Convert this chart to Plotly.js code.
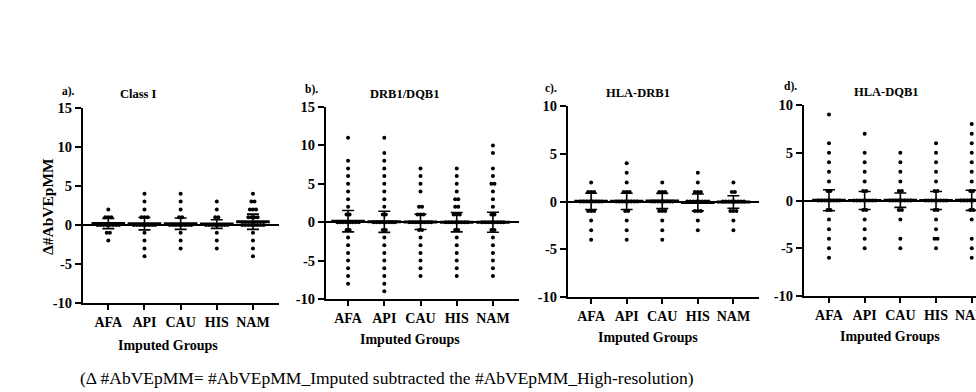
<!DOCTYPE html>
<html>
<head>
<meta charset="utf-8">
<script src="https://cdn.plot.ly/plotly-3.0.1.min.js"></script>
<style>html,body{margin:0;padding:0;background:#fff;}#chart{width:976px;height:392px;}</style>
</head>
<body>
<div id="chart"></div>
<script>
// ---- data ----
const groups = ['AFA', 'API', 'CAU', 'HIS', 'NAM'];
const yTicks15 = [-10, -5, 0, 5, 10, 15];
const yTicks10 = [-10, -5, 0, 5, 10];

// a) Class I : integer levels of Δ#AbVEpMM and dots seen at each level
const classI_levels = [[2,1,0,-1,-2],[4,3,2,1,0,-1,-2,-3,-4],[4,3,2,1,0,-1,-2,-3],[3,2,1,0,-1,-2,-3],[4,3,2,1,0,-1,-2,-3,-4]];
const classI_counts = [[1,3,8,2,1],[1,1,1,3,8,1,1,1,1],[1,1,1,2,8,1,1,1],[1,1,2,8,1,1,1],[1,2,3,4,8,1,1,1,1]];
const classI_mean = [0.19, 0.17, 0.17, 0.12, 0.42];
const classI_sd = [0.66, 0.80, 0.73, 0.55, 0.98];

// b) DRB1/DQB1
const drbdqb_levels = [
  [11,8,7,6,5,4,3,2,1,0,-1,-2,-3,-4,-5,-6,-7,-8],
  [11,9,8,7,6,5,4,3,2,1,0,-1,-2,-3,-4,-5,-6,-7,-8,-9],
  [7,6,5,4,2,1,0,-1,-2,-3,-4,-5,-6,-7],
  [7,6,5,4,3,2,1,0,-1,-2,-3,-4,-5,-6,-7],
  [10,9,7,6,5,4,3,2,1,0,-1,-2,-3,-4,-5,-6,-7]];
const drbdqb_counts = [
  [1,1,1,1,1,1,1,1,2,8,2,1,1,1,1,1,1,1],
  [1,1,1,1,1,1,1,1,1,2,8,2,1,1,1,1,1,1,1,1],
  [1,1,1,1,2,3,8,2,1,1,1,1,1,1],
  [1,1,1,1,2,2,3,8,2,1,1,1,1,1,1],
  [1,1,1,1,2,1,1,1,2,8,2,1,1,1,1,1,1]];
const drbdqb_mean = [0.13, 0.05, 0.04, 0.0, 0.0];
const drbdqb_sd = [1.39, 1.37, 1.0, 1.26, 1.3];

// c) HLA-DRB1
const drb1_levels = [[2,1,0,-1,-2,-3,-4],[4,3,2,1,0,-1,-2,-3,-4],[2,1,0,-1,-2,-3,-4],[3,2,1,0,-1,-2,-3],[2,1,0,-1,-2,-3]];
const drb1_counts = [[1,3,8,3,1,1,1],[1,1,1,3,8,2,1,1,1],[1,3,8,3,1,1,1],[1,1,3,8,3,1,1],[1,2,8,3,1,1]];
const drb1_mean = [0.02, 0.02, 0.05, -0.1, -0.05];
const drb1_sd = [0.85, 0.85, 0.8, 0.88, 0.65];

// d) HLA-DQB1
const dqb1_levels = [
  [9,6,5,4,3,2,1,0,-1,-2,-3,-4,-5,-6],
  [7,5,4,3,2,1,0,-1,-2,-3,-4,-5],
  [5,4,3,2,1,0,-1,-2,-4,-5],
  [6,5,4,3,2,1,0,-1,-2,-3,-4,-5],
  [8,7,6,5,4,3,2,1,0,-1,-2,-4,-5,-6]];
const dqb1_counts = [
  [1,1,1,1,1,1,2,8,2,1,1,1,1,1],
  [1,1,1,1,1,2,8,2,1,1,1,1],
  [1,1,1,1,2,8,2,1,1,1],
  [1,1,1,1,1,2,8,2,1,1,2,1],
  [1,1,1,1,1,1,1,2,8,2,1,1,1,1]];
const dqb1_mean = [0.02, 0.0, 0.03, 0.0, 0.02];
const dqb1_sd = [1.1, 0.95, 0.75, 0.95, 1.05];

const panelLabels = ['a).', 'b).', 'c).', 'd).'];
const panelTitles = ['Class I', 'DRB1/DQB1', 'HLA-DRB1', 'HLA-DQB1'];
const yTitle = 'Δ#AbVEpMM';
const xTitle = 'Imputed Groups';
const caption = '(Δ #AbVEpMM= #AbVEpMM_Imputed subtracted the #AbVEpMM_High-resolution)';

// ---- layout geometry (pixels) ----
const W = 976, H = 392;
const FONT = 'Liberation Serif, Times New Roman, serif';
const panels = [
  {lv: classI_levels, ct: classI_counts, mean: classI_mean, sd: classI_sd, x0: 83, x1: 279, top: 108, bot: 303, xr: [-0.7, 4.72], yr: [-10, 15], yt: yTicks15,
   lab: [68, 91], tit: [138, 94], xt: [168, 345]},
  {lv: drbdqb_levels, ct: drbdqb_counts, mean: drbdqb_mean, sd: drbdqb_sd, x0: 326, x1: 519, top: 107, bot: 299, xr: [-0.61, 4.72], yr: [-10, 15], yt: yTicks15,
   lab: [311, 90], tit: [404, 94], xt: [410, 339]},
  {lv: drb1_levels, ct: drb1_counts, mean: drb1_mean, sd: drb1_sd, x0: 568, x1: 759, top: 106, bot: 297, xr: [-0.65, 4.72], yr: [-10, 10], yt: yTicks10,
   lab: [551, 88], tit: [638, 93], xt: [648, 337]},
  {lv: dqb1_levels, ct: dqb1_counts, mean: dqb1_mean, sd: dqb1_sd, x0: 804, x1: 976, top: 105, bot: 296, xr: [-0.7, 4.12], yr: [-10, 10], yt: yTicks10,
   lab: [790, 87], tit: [886, 92], xt: [890, 336]}
];

const DX = 0.085; // horizontal spacing of stacked dots, in category units
const bold = s => '<b>' + s + '</b>';
const traces = [];
const layout = {
  width: W, height: H, margin: {l: 0, r: 0, t: 0, b: 0},
  paper_bgcolor: '#fff', plot_bgcolor: '#fff', showlegend: false,
  font: {family: FONT, color: '#000'},
  annotations: [], shapes: []
};

panels.forEach((p, k) => {
  const sx = k === 0 ? '' : String(k + 1);
  const xa = 'x' + sx, ya = 'y' + sx;
  // dots
  const xs = [], ys = [];
  p.lv.forEach((levels, g) => {
    levels.forEach((v, j) => {
      const n = p.ct[g][j];
      for (let i = 0; i < n; i++) {
        xs.push(g + (i - (n - 1) / 2) * DX);
        ys.push(v);
      }
    });
  });
  traces.push({type: 'scatter', mode: 'markers', x: xs, y: ys, xaxis: xa, yaxis: ya,
    marker: {size: 4, color: '#000'}, hoverinfo: 'y', cliponaxis: false});
  // mean ± SD
  traces.push({type: 'scatter', mode: 'markers', x: groups.map((_, g) => g), y: p.mean, xaxis: xa, yaxis: ya,
    marker: {symbol: 'line-ew', size: 24, line: {width: 3, color: '#000'}, color: '#000'},
    error_y: {type: 'data', array: p.sd, visible: true, color: '#000', thickness: 1.6, width: 6},
    cliponaxis: false});

  layout['xaxis' + sx] = {
    domain: [p.x0 / W, p.x1 / W], anchor: ya, range: p.xr,
    tickvals: groups.map((_, g) => g), ticktext: groups.map(bold),
    showline: true, linecolor: '#000', linewidth: 2, ticks: 'outside', ticklen: 5, tickwidth: 2, tickcolor: '#000',
    showgrid: false, zeroline: false, fixedrange: true, ticklabeloverflow: 'allow',
    tickfont: {family: FONT, size: 14, color: '#000'}
  };
  layout['yaxis' + sx] = {
    domain: [1 - p.bot / H, 1 - p.top / H], anchor: xa, range: p.yr,
    tickvals: p.yt, ticktext: p.yt.map(v => bold(String(v))),
    showline: true, linecolor: '#000', linewidth: 2, ticks: 'outside', ticklen: 6, tickwidth: 2, tickcolor: '#000',
    showgrid: false, zeroline: true, zerolinecolor: '#000', zerolinewidth: 2, fixedrange: true,
    tickfont: {family: FONT, size: 14.5, color: '#000'}
  };
  const ann = (txt, pos, size, extra) => Object.assign({
    text: txt, xref: 'paper', yref: 'paper', x: pos[0] / W, y: 1 - pos[1] / H,
    xanchor: 'center', yanchor: 'middle', showarrow: false,
    font: {family: FONT, size: size, color: '#000'}
  }, extra || {});
  layout.annotations.push(ann(bold(panelLabels[k]), p.lab, 11.5));
  layout.annotations.push(ann(bold(panelTitles[k]), p.tit, 12.5));
  layout.annotations.push(ann(bold(xTitle), p.xt, 14));
});

layout.annotations.push({
  text: bold(yTitle), xref: 'paper', yref: 'paper', x: 48 / W, y: 1 - 207 / H, textangle: -90,
  xanchor: 'center', yanchor: 'middle', showarrow: false,
  font: {family: FONT, size: 15.5, color: '#000'}
});
layout.annotations.push({
  text: caption, xref: 'paper', yref: 'paper', x: 387 / W, y: 1 - 378 / H,
  xanchor: 'center', yanchor: 'middle', showarrow: false,
  font: {family: FONT, size: 17.5, color: '#000'}
});

Plotly.newPlot('chart', traces, layout, {displayModeBar: false, staticPlot: true});
</script>
</body>
</html>
